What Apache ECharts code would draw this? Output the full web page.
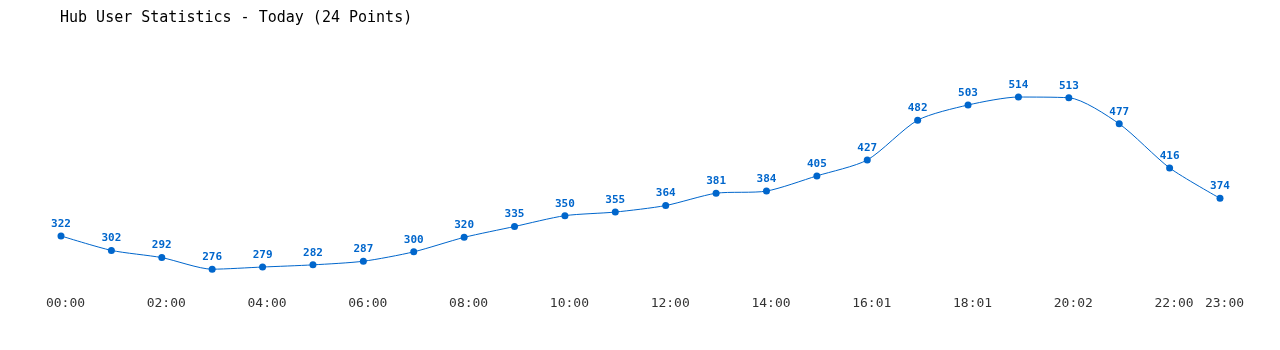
<!DOCTYPE html>
<html><head><meta charset="utf-8">
<script src="https://cdn.jsdelivr.net/npm/echarts@6/dist/echarts.min.js"></script>
<style>html,body{margin:0;padding:0;background:#fff}#c{width:1280px;height:350px}</style>
</head><body><div id="c"></div>
<script>
const categories = ["00:00","01:00","02:00","03:00","04:00","05:00","06:00","07:00","08:00","09:00","10:00","11:00","12:00","13:00","14:00","15:00","16:01","17:01","18:01","19:02","20:02","21:00","22:00","23:00"];
const users = [322,302,292,276,279,282,287,300,320,335,350,355,364,381,384,405,427,482,503,514,513,477,416,374];
const titleText = "Hub User Statistics - Today (24 Points)";
const mono = "'DejaVu Sans Mono', 'Liberation Mono', monospace";
const chart = echarts.init(document.getElementById('c'));
chart.setOption({
  animation: false,
  backgroundColor: '#fff',
  title: { text: titleText, left: 60, top: 11, padding: 0,
    textStyle: { fontFamily: mono, fontSize: 15, fontWeight: 'normal', color: '#000' } },
  grid: { left: 61, right: 60, top: 71, bottom: 62 },
  xAxis: { type: 'category', data: categories, boundaryGap: false,
    axisLine: { show: false }, axisTick: { show: false }, splitLine: { show: false },
    axisLabel: { fontFamily: mono, fontSize: 13, color: '#333', margin: 9, padding: [0, 0, 0, 9],
      interval: (i) => i % 2 === 0 || i === categories.length - 1 } },
  yAxis: { type: 'value', min: 250, max: 550, show: false, splitLine: { show: false } },
  series: [{ type: 'line', data: users, smooth: 0.25,
    symbol: 'circle', symbolSize: 7,
    lineStyle: { color: '#0066cc', width: 1 },
    itemStyle: { color: '#0066cc' },
    label: { show: true, position: 'top', distance: 3, color: '#0066cc',
      fontFamily: mono, fontSize: 11, fontWeight: 'bold' } }]
});
</script></body></html>
